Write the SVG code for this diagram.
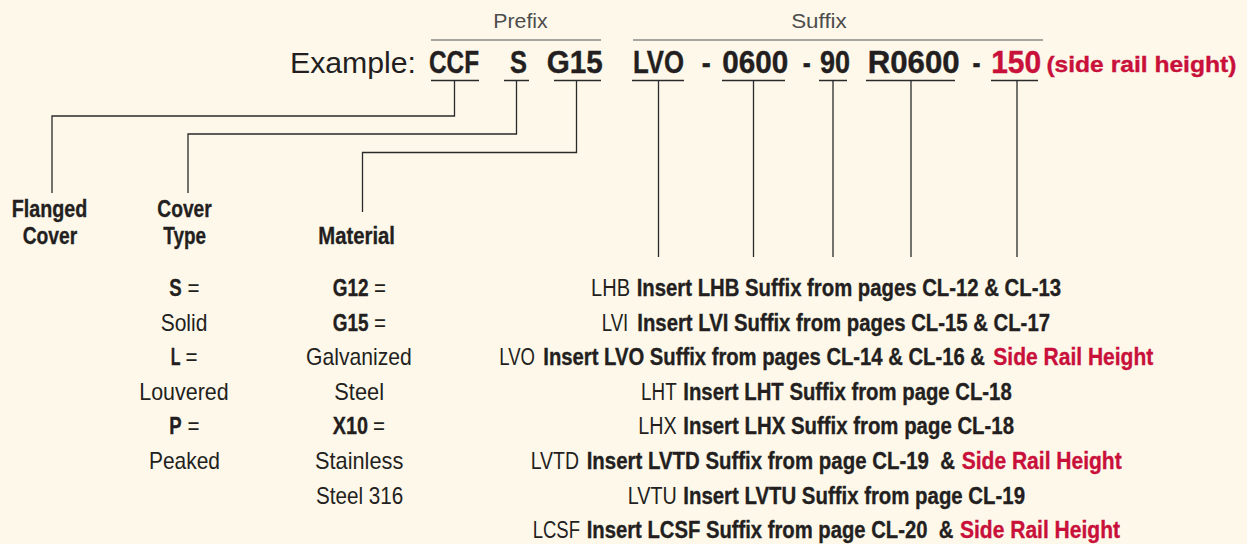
<svg xmlns="http://www.w3.org/2000/svg" width="1247" height="544" viewBox="0 0 1247 544">
<style>
.bg{fill:#FEF8EB}
text{font-family:'Liberation Sans',Arial,sans-serif;fill:#231F20}
.ex{font-size:30px}
.code{font-size:31px;font-weight:bold;stroke:#231F20;stroke-width:0.4}
.cap{font-size:20px;fill:#4D4D4D}
.lbl{font-size:24.5px;font-weight:bold;stroke:#231F20;stroke-width:0.35}
.t{font-size:24px}
.b{font-weight:bold;stroke:#231F20;stroke-width:0.35}
.red{fill:#C8103A;stroke:#C8103A}
.bar{stroke:#8A8A8A;stroke-width:1.5;fill:none}
.ln{stroke:#2A2A2A;stroke-width:1.3;fill:none}
</style>
<rect class="bg" x="0" y="0" width="1247" height="544"/>

<g id="header">
<text class="cap" x="493.3" y="28.3" textLength="54.4" lengthAdjust="spacingAndGlyphs">Prefix</text>
<text class="cap" x="791.2" y="28.3" textLength="55.6" lengthAdjust="spacingAndGlyphs">Suffix</text>
<line class="bar" x1="431" y1="40" x2="601" y2="40"/>
<line class="bar" x1="633" y1="40" x2="1043" y2="40"/>
<text class="ex" x="290" y="73" textLength="126" lengthAdjust="spacingAndGlyphs">Example:</text>
<text class="code" x="429" y="73" textLength="50" lengthAdjust="spacingAndGlyphs">CCF</text>
<text class="code" x="510" y="73" textLength="17" lengthAdjust="spacingAndGlyphs">S</text>
<text class="code" x="546.7" y="73" textLength="56" lengthAdjust="spacingAndGlyphs">G15</text>
<text class="code" x="633" y="73" textLength="51" lengthAdjust="spacingAndGlyphs">LVO</text>
<text class="code" x="701.7" y="73" textLength="9" lengthAdjust="spacingAndGlyphs">-</text>
<text class="code" x="722.3" y="73" textLength="66" lengthAdjust="spacingAndGlyphs">0600</text>
<text class="code" x="802.8" y="73" textLength="8" lengthAdjust="spacingAndGlyphs">-</text>
<text class="code" x="820" y="73" textLength="30" lengthAdjust="spacingAndGlyphs">90</text>
<text class="code" x="867.7" y="73" textLength="92" lengthAdjust="spacingAndGlyphs">R0600</text>
<text class="code" x="972.5" y="73" textLength="8" lengthAdjust="spacingAndGlyphs">-</text>
<text class="code red" x="991.2" y="73" textLength="50" lengthAdjust="spacingAndGlyphs">150</text>
<text class="b red" x="1046.4" y="72" font-size="22" textLength="190" lengthAdjust="spacingAndGlyphs">(side rail height)</text>
</g>

<g id="connectors">
<path class="ln" d="M431,80.5H479M504,80.5H529M554,80.5H601M632,80.5H684M722,80.5H785M819,80.5H847M866,80.5H955M991,80.5H1038"/>
<path class="ln" d="M454.5,80.5V116H52V193"/>
<path class="ln" d="M516.5,80.5V134H188V193"/>
<path class="ln" d="M576.5,80.5V152.5H362.5V212"/>
<path class="ln" d="M658.5,80.5V257M753.5,80.5V257M833,80.5V257M911,80.5V257M1017,80.5V257"/>
</g>

<g id="flanged-cover">
<text class="lbl" x="11.7" y="216.7" textLength="75.6" lengthAdjust="spacingAndGlyphs">Flanged</text>
<text class="lbl" x="22.7" y="244" textLength="54.6" lengthAdjust="spacingAndGlyphs">Cover</text>
</g>

<g id="cover-type">
<text class="lbl" x="157.3" y="216.7" textLength="54.4" lengthAdjust="spacingAndGlyphs">Cover</text>
<text class="lbl" x="163.3" y="244" textLength="42.7" lengthAdjust="spacingAndGlyphs">Type</text>
<text class="t b" transform="translate(169.3,296) scale(0.775,1)" textLength="16" lengthAdjust="spacingAndGlyphs">S</text>
<text class="t" transform="translate(187.5,296) scale(0.857,1)" textLength="14" lengthAdjust="spacingAndGlyphs">=</text>
<text class="t" x="160.7" y="330.6" textLength="46.7" lengthAdjust="spacingAndGlyphs">Solid</text>
<text class="t b" transform="translate(170.7,365.2) scale(0.668,1)" textLength="14.66" lengthAdjust="spacingAndGlyphs">L</text>
<text class="t" transform="translate(185.6,365.2) scale(0.857,1)" textLength="14" lengthAdjust="spacingAndGlyphs">=</text>
<text class="t" x="139.3" y="399.8" textLength="89.3" lengthAdjust="spacingAndGlyphs">Louvered</text>
<text class="t b" transform="translate(169.3,434.4) scale(0.775,1)" textLength="16" lengthAdjust="spacingAndGlyphs">P</text>
<text class="t" transform="translate(187.5,434.4) scale(0.857,1)" textLength="14" lengthAdjust="spacingAndGlyphs">=</text>
<text class="t" x="149" y="469" textLength="71" lengthAdjust="spacingAndGlyphs">Peaked</text>
</g>

<g id="material">
<text class="lbl" x="318.3" y="244" textLength="76.7" lengthAdjust="spacingAndGlyphs">Material</text>
<text class="t b" transform="translate(332.7,296) scale(0.7892,1)" textLength="45.36" lengthAdjust="spacingAndGlyphs">G12</text>
<text class="t" transform="translate(374,296) scale(0.857,1)" textLength="14" lengthAdjust="spacingAndGlyphs">=</text>
<text class="t b" transform="translate(332.7,330.6) scale(0.7892,1)" textLength="45.36" lengthAdjust="spacingAndGlyphs">G15</text>
<text class="t" transform="translate(374,330.6) scale(0.857,1)" textLength="14" lengthAdjust="spacingAndGlyphs">=</text>
<text class="t" x="306" y="365.2" textLength="105.7" lengthAdjust="spacingAndGlyphs">Galvanized</text>
<text class="t" x="334.3" y="399.8" textLength="49.7" lengthAdjust="spacingAndGlyphs">Steel</text>
<text class="t b" transform="translate(332.7,434.4) scale(0.8244,1)" textLength="42.7" lengthAdjust="spacingAndGlyphs">X10</text>
<text class="t" transform="translate(373,434.4) scale(0.857,1)" textLength="14" lengthAdjust="spacingAndGlyphs">=</text>
<text class="t" x="315" y="469" textLength="88.3" lengthAdjust="spacingAndGlyphs">Stainless</text>
<text class="t" x="316" y="503.6" textLength="87.3" lengthAdjust="spacingAndGlyphs">Steel 316</text>
</g>

<g id="suffix-list">
<text class="t" transform="translate(591,296) scale(0.8355,1)" textLength="46.68" lengthAdjust="spacingAndGlyphs">LHB</text>
<text class="t b" transform="translate(636.7,296) scale(0.8462,1)" textLength="501.41" lengthAdjust="spacingAndGlyphs">Insert LHB Suffix from pages CL-12 &amp; CL-13</text>

<text class="t" transform="translate(601.7,330.6) scale(0.7385,1)" textLength="36.02" lengthAdjust="spacingAndGlyphs">LVI</text>
<text class="t b" transform="translate(637.3,330.6) scale(0.8432,1)" textLength="489.43" lengthAdjust="spacingAndGlyphs">Insert LVI Suffix from pages CL-15 &amp; CL-17</text>

<text class="t" transform="translate(499.3,365.2) scale(0.7434,1)" textLength="48.02" lengthAdjust="spacingAndGlyphs">LVO</text>
<text class="t b" transform="translate(543.3,365.2) scale(0.8406,1)" textLength="525.43" lengthAdjust="spacingAndGlyphs">Insert LVO Suffix from pages CL-14 &amp; CL-16 &amp;</text>
<text class="t b red" transform="translate(993.3,365.2) scale(0.8757,1)" textLength="182.71" lengthAdjust="spacingAndGlyphs">Side Rail Height</text>

<text class="t" transform="translate(641,399.8) scale(0.7874,1)" textLength="45.34" lengthAdjust="spacingAndGlyphs">LHT</text>
<text class="t b" transform="translate(683.3,399.8) scale(0.8463,1)" textLength="388.06" lengthAdjust="spacingAndGlyphs">Insert LHT Suffix from page CL-18</text>

<text class="t" transform="translate(638.3,434.4) scale(0.8226,1)" textLength="46.68" lengthAdjust="spacingAndGlyphs">LHX</text>
<text class="t b" transform="translate(683.3,434.4) scale(0.8493,1)" textLength="389.4" lengthAdjust="spacingAndGlyphs">Insert LHX Suffix from page CL-18</text>

<text class="t" transform="translate(530.7,469) scale(0.7874,1)" textLength="61.34" lengthAdjust="spacingAndGlyphs">LVTD</text>
<text class="t b" xml:space="preserve" transform="translate(586.7,469) scale(0.8472,1)" textLength="434.74" lengthAdjust="spacingAndGlyphs">Insert LVTD Suffix from page CL-19  &amp;</text>
<text class="t b red" transform="translate(961.7,469) scale(0.8757,1)" textLength="182.71" lengthAdjust="spacingAndGlyphs">Side Rail Height</text>

<text class="t" transform="translate(627.7,503.6) scale(0.7988,1)" textLength="61.34" lengthAdjust="spacingAndGlyphs">LVTU</text>
<text class="t b" transform="translate(683.3,503.6) scale(0.8457,1)" textLength="404.06" lengthAdjust="spacingAndGlyphs">Insert LVTU Suffix from page CL-19</text>

<text class="t" transform="translate(532.7,538.2) scale(0.7711,1)" textLength="61.34" lengthAdjust="spacingAndGlyphs">LCSF</text>
<text class="t b" xml:space="preserve" transform="translate(586.7,538.2) scale(0.8433,1)" textLength="434.74" lengthAdjust="spacingAndGlyphs">Insert LCSF Suffix from page CL-20  &amp;</text>
<text class="t b red" transform="translate(960,538.2) scale(0.8757,1)" textLength="182.71" lengthAdjust="spacingAndGlyphs">Side Rail Height</text>
</g>
</svg>
